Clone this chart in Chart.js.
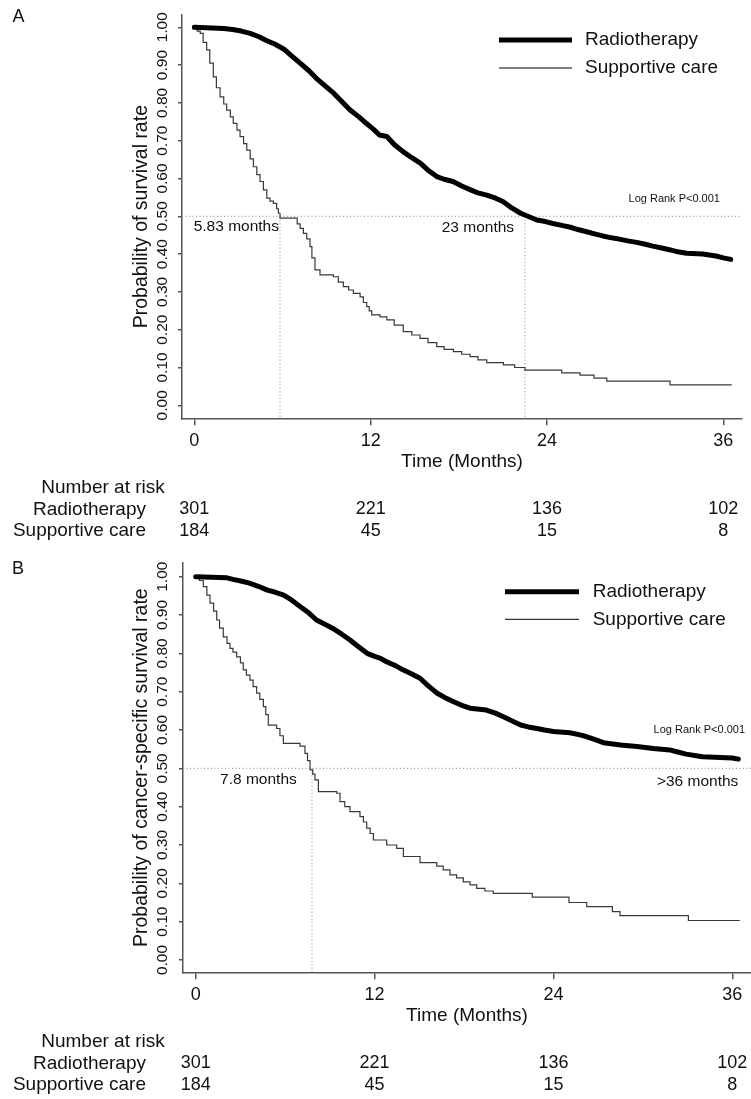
<!DOCTYPE html>
<html>
<head>
<meta charset="utf-8">
<title>Kaplan-Meier survival</title>
<script src="https://cdn.jsdelivr.net/npm/chart.js@4.4.1/dist/chart.umd.min.js"></script>
<style>
  body { margin: 0; background: #fff; }
  #wrap { position: relative; width: 751px; height: 1099px; }
  canvas { position: absolute; left: 0; }
</style>
</head>
<body>
<div id="wrap">
  <canvas id="chartA" width="751" height="549" style="top:0"></canvas>
  <canvas id="chartB" width="751" height="550" style="top:549px"></canvas>
</div>
<script>
// ---- data ----
const xTicks = [0, 12, 24, 36];
const yTicks = [0, 0.1, 0.2, 0.3, 0.4, 0.5, 0.6, 0.7, 0.8, 0.9, 1.0];
const groups = ['Radiotherapy', 'Supportive care'];
const atRiskRadio = [301, 221, 136, 102];
const atRiskCare = [184, 45, 15, 8];

// Panel A: overall survival
const timeRadioA = [0, 2.0, 2.6, 3.2, 3.8, 4.4, 4.9, 5.5, 6.1, 6.6, 7.2, 7.8, 8.3, 8.9, 9.5, 10.0, 10.6, 11.2, 11.7, 12.2, 12.6, 13.1, 13.6, 14.2, 14.8, 15.4, 15.9, 16.5, 17.0, 17.6, 18.2, 18.8, 19.3, 19.9, 20.5, 21.0, 21.6, 22.2, 22.7, 23.3, 23.9, 24.4, 25.0, 25.6, 26.1, 26.7, 27.3, 27.8, 28.4, 29.0, 29.5, 30.1, 30.7, 31.2, 31.8, 32.4, 32.9, 33.5, 34.6, 35.5, 36.0, 36.5];
const survRadioA = [1.0, 0.997, 0.994, 0.99, 0.984, 0.975, 0.965, 0.955, 0.942, 0.925, 0.905, 0.885, 0.865, 0.845, 0.825, 0.805, 0.781, 0.763, 0.746, 0.73, 0.715, 0.711, 0.69, 0.671, 0.655, 0.64, 0.622, 0.605, 0.598, 0.592, 0.58, 0.57, 0.562, 0.556, 0.548, 0.539, 0.522, 0.508, 0.5, 0.49, 0.486, 0.481, 0.476, 0.471, 0.465, 0.459, 0.453, 0.448, 0.443, 0.439, 0.435, 0.431, 0.426, 0.421, 0.416, 0.411, 0.406, 0.402, 0.4, 0.395, 0.39, 0.386];
const timeCareA = [0, 0.2, 0.4, 0.6, 0.84, 1.05, 1.29, 1.5, 1.75, 2.0, 2.2, 2.45, 2.65, 2.9, 3.11, 3.35, 3.57, 3.8, 4.02, 4.25, 4.47, 4.7, 4.93, 5.15, 5.38, 5.6, 5.72, 5.83, 7.0, 7.2, 7.42, 7.65, 7.87, 8.0, 8.21, 8.55, 9.46, 9.8, 10.14, 10.5, 10.82, 11.28, 11.5, 11.73, 11.9, 12.07, 12.64, 13.1, 13.6, 14.22, 14.8, 15.36, 15.9, 16.5, 17.0, 17.63, 18.2, 18.76, 19.3, 19.9, 21.03, 21.8, 22.5, 25.0, 26.25, 27.2, 28.07, 32.37, 36.57];
const survCareA = [1.0, 0.99, 0.984, 0.96, 0.94, 0.905, 0.869, 0.84, 0.816, 0.797, 0.781, 0.763, 0.746, 0.728, 0.711, 0.692, 0.675, 0.652, 0.631, 0.61, 0.592, 0.57, 0.548, 0.54, 0.534, 0.52, 0.508, 0.495, 0.48, 0.468, 0.455, 0.44, 0.42, 0.39, 0.358, 0.345, 0.34, 0.326, 0.314, 0.305, 0.296, 0.287, 0.272, 0.261, 0.25, 0.239, 0.234, 0.226, 0.212, 0.195, 0.186, 0.177, 0.166, 0.155, 0.148, 0.142, 0.135, 0.129, 0.12, 0.113, 0.107, 0.1, 0.093, 0.086, 0.08, 0.072, 0.064, 0.054, 0.054];
const mediansA = [5.83, 22.5];

// Panel B: cancer-specific survival
const timeRadioB = [0, 2.1, 2.5, 3.1, 3.6, 4.2, 4.8, 5.3, 5.9, 6.4, 7.0, 7.6, 8.1, 8.7, 9.2, 9.8, 10.35, 10.9, 11.5, 12.0, 12.4, 12.8, 13.4, 13.9, 14.5, 15.05, 15.6, 16.2, 16.7, 17.3, 17.8, 18.4, 19.5, 20.1, 20.6, 21.2, 21.8, 22.3, 22.9, 23.4, 24.0, 25.1, 25.7, 26.2, 26.8, 27.35, 28.5, 29.6, 30.7, 31.8, 32.4, 32.9, 34.0, 36.0, 36.4];
const survRadioB = [1.0, 0.997, 0.993, 0.988, 0.983, 0.975, 0.965, 0.96, 0.952, 0.94, 0.922, 0.905, 0.887, 0.875, 0.865, 0.85, 0.835, 0.818, 0.8, 0.792, 0.787, 0.778, 0.768, 0.757, 0.746, 0.735, 0.715, 0.696, 0.685, 0.674, 0.665, 0.657, 0.652, 0.644, 0.635, 0.624, 0.613, 0.608, 0.604, 0.6, 0.596, 0.593, 0.588, 0.583, 0.575, 0.567, 0.561, 0.557, 0.552, 0.548, 0.542, 0.537, 0.53, 0.527, 0.524];
const timeCareB = [0, 0.25, 0.51, 0.75, 0.96, 1.2, 1.41, 1.6, 1.85, 2.1, 2.3, 2.5, 2.75, 3.0, 3.19, 3.4, 3.64, 3.85, 4.09, 4.3, 4.54, 4.7, 4.87, 5.43, 5.65, 5.88, 7.0, 7.33, 7.5, 7.67, 7.85, 8.0, 8.23, 9.46, 9.68, 10.0, 10.35, 11.02, 11.25, 11.47, 11.7, 11.92, 12.81, 13.48, 13.93, 15.05, 16.17, 16.6, 17.06, 17.5, 17.95, 18.4, 18.85, 19.4, 19.96, 22.58, 25.04, 26.23, 27.95, 28.46, 33.05, 36.5];
const survCareB = [1.0, 0.99, 0.974, 0.952, 0.931, 0.91, 0.887, 0.866, 0.843, 0.826, 0.813, 0.803, 0.791, 0.775, 0.757, 0.743, 0.73, 0.713, 0.696, 0.68, 0.661, 0.64, 0.613, 0.604, 0.585, 0.565, 0.558, 0.539, 0.52, 0.496, 0.485, 0.47, 0.439, 0.435, 0.413, 0.4, 0.387, 0.374, 0.36, 0.344, 0.33, 0.313, 0.3, 0.291, 0.27, 0.254, 0.245, 0.235, 0.222, 0.214, 0.204, 0.196, 0.187, 0.18, 0.174, 0.164, 0.15, 0.139, 0.126, 0.116, 0.103, 0.103];
const mediansB = [7.8];

const FONT = 'Arial, "Liberation Sans", Helvetica, sans-serif';
const AXIS = '#555';
const INK = '#111';

function pts(times, surv) {
  return times.map((t, i) => ({ x: t, y: surv[i] }));
}

// draws text parts: letter, tick labels, titles, legend, notes, risk table
const kmText = {
  id: 'kmText',
  afterDraw(chart, args, o) {
    const { ctx, chartArea: ca, scales: { x, y } } = chart;
    ctx.save();
    ctx.fillStyle = INK;
    ctx.textBaseline = 'middle';

    ctx.font = '18px ' + FONT;
    ctx.textAlign = 'center';
    ctx.fillText(o.letter, o.letterX, o.letterY);

    // y tick labels, rotated
    ctx.font = '15.5px ' + FONT;
    yTicks.forEach(v => {
      ctx.save();
      ctx.translate(o.yLabelX, y.getPixelForValue(v));
      ctx.rotate(-Math.PI / 2);
      ctx.fillText(v.toFixed(2), 0, 0);
      ctx.restore();
    });

    // y title
    ctx.font = '19.5px ' + FONT;
    ctx.save();
    ctx.translate(o.yTitleX, (ca.top + ca.bottom) / 2);
    ctx.rotate(-Math.PI / 2);
    ctx.fillText(o.yTitle, 0, 0);
    ctx.restore();

    // x tick labels and title
    ctx.font = '18px ' + FONT;
    xTicks.forEach(v => ctx.fillText(String(v), x.getPixelForValue(v), ca.bottom + 23));
    ctx.font = '19px ' + FONT;
    ctx.fillText('Time (Months)', (ca.left + ca.right) / 2, ca.bottom + 43.5);

    // number at risk
    ctx.fillText('Number at risk', 103, ca.bottom + 69.5);
    ctx.textAlign = 'right';
    ctx.fillText(groups[0], 146, ca.bottom + 91);
    ctx.fillText(groups[1], 146, ca.bottom + 112.5);
    ctx.textAlign = 'center';
    ctx.font = '18px ' + FONT;
    xTicks.forEach((v, i) => {
      const px = x.getPixelForValue(v);
      ctx.fillText(String(atRiskRadio[i]), px, ca.bottom + 91);
      ctx.fillText(String(atRiskCare[i]), px, ca.bottom + 112.5);
    });

    // legend
    ctx.strokeStyle = '#000';
    ctx.lineCap = 'butt';
    [5, 1].forEach((w, i) => {
      ctx.lineWidth = w;
      ctx.beginPath();
      ctx.moveTo(o.legX0, o.legY[i]);
      ctx.lineTo(o.legX1, o.legY[i]);
      ctx.stroke();
    });
    ctx.font = '19px ' + FONT;
    ctx.textAlign = 'left';
    groups.forEach((g, i) => ctx.fillText(g, o.legTextX, o.legY[i]));

    // notes
    ctx.textAlign = 'right';
    o.notes.forEach(n => {
      ctx.font = n.size + 'px ' + FONT;
      ctx.fillText(n.text, x.getPixelForValue(n.x), y.getPixelForValue(n.y));
    });
    ctx.restore();
  }
};

function makePanel(id, p) {
  const canvas = document.getElementById(id);
  const H = canvas.height;
  const W = canvas.width;
  const yBottom = p.yMin;
  const datasets = [
    {
      // many tiny steps at a 5px pen blur into a smooth band, so join the points directly
      label: groups[0], data: pts(p.tRadio, p.sRadio), stepped: false, tension: 0,
      borderColor: '#000', borderWidth: 5, borderJoinStyle: 'round', borderCapStyle: 'round',
      pointRadius: 0, fill: false
    },
    {
      label: groups[1], data: pts(p.tCare, p.sCare), stepped: 'before',
      borderColor: '#383838', borderWidth: 1.2, pointRadius: 0, fill: false
    },
    {
      label: 'median', data: [{ x: p.xMin, y: 0.5 }, { x: p.xMax, y: 0.5 }],
      borderColor: '#888', borderWidth: 1, borderDash: [1, 2.5], pointRadius: 0, fill: false
    }
  ];
  p.medians.forEach(m => {
    datasets.push({
      label: 'median', data: [{ x: m, y: 0.5 }, { x: m, y: yBottom }],
      borderColor: '#888', borderWidth: 1, borderDash: [1, 2.5], pointRadius: 0, fill: false
    });
  });

  return new Chart(canvas, {
    type: 'line',
    data: { datasets: datasets },
    plugins: [kmText],
    options: {
      responsive: false,
      animation: false,
      events: [],
      layout: {
        autoPadding: false,
        padding: { top: p.top, right: W - p.right, bottom: 0, left: 0 }
      },
      plugins: {
        legend: { display: false },
        tooltip: { enabled: false },
        kmText: p.text
      },
      scales: {
        x: {
          type: 'linear', min: p.xMin, max: p.xMax,
          afterBuildTicks: s => { s.ticks = xTicks.map(v => ({ value: v })); },
          afterFit: s => { s.height = H - p.bottom; },
          ticks: { display: false },
          grid: { drawOnChartArea: false, drawTicks: true, tickLength: 7, color: AXIS, lineWidth: 1.5 },
          border: { display: true, color: AXIS, width: 1.5 }
        },
        y: {
          type: 'linear', min: p.yMin, max: p.yMax,
          afterBuildTicks: s => { s.ticks = yTicks.map(v => ({ value: v })); },
          afterFit: s => { s.width = p.left; },
          ticks: { display: false },
          grid: { drawOnChartArea: false, drawTicks: true, tickLength: 4, color: AXIS, lineWidth: 1.5 },
          border: { display: true, color: AXIS, width: 1.5 }
        }
      }
    }
  });
}

makePanel('chartA', {
  top: 15, bottom: 418.3, left: 182, right: 742,
  xMin: -0.84, xMax: 37.27, yMin: -0.0344, yMax: 1.0325,
  tRadio: timeRadioA, sRadio: survRadioA, tCare: timeCareA, sCare: survCareA,
  medians: mediansA,
  text: {
    letter: 'A', letterX: 18.5, letterY: 17.5,
    yLabelX: 162.5, yTitleX: 141.5, yTitle: 'Probability of survival rate',
    legX0: 499, legX1: 572, legTextX: 585, legY: [40, 68],
    notes: [
      { text: 'Log Rank P<0.001', x: 35.77, y: 0.546, size: 11 },
      { text: '5.83 months', x: 5.76, y: 0.4725, size: 15.5 },
      { text: '23 months', x: 21.76, y: 0.471, size: 15.5 }
    ]
  }
});

makePanel('chartB', {
  top: 14, bottom: 423.3, left: 183, right: 751,
  xMin: -0.852, xMax: 37.25, yMin: -0.0321, yMax: 1.0357,
  tRadio: timeRadioB, sRadio: survRadioB, tCare: timeCareB, sCare: survCareB,
  medians: mediansB,
  text: {
    letter: 'B', letterX: 18, letterY: 20,
    yLabelX: 162.5, yTitleX: 141.7, yTitle: 'Probability of cancer-specific survival rate',
    legX0: 505, legX1: 579, legTextX: 592.7, legY: [42.7, 70.3],
    notes: [
      { text: 'Log Rank P<0.001', x: 36.85, y: 0.600, size: 11 },
      { text: '7.8 months', x: 6.78, y: 0.470, size: 15.5 },
      { text: '>36 months', x: 36.4, y: 0.465, size: 15.5 }
    ]
  }
});
</script>
</body>
</html>
